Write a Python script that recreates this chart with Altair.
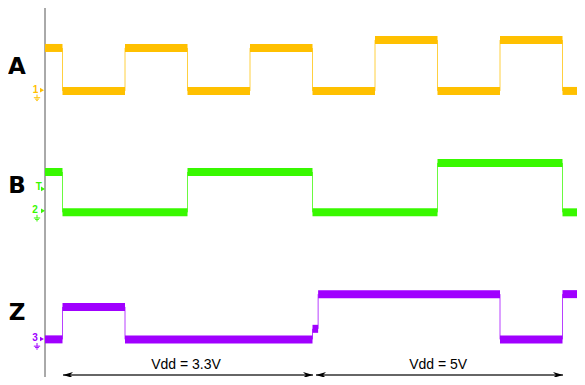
import altair as alt
import pandas as pd

# Time in half-periods of clock A (0 = start of traces); y in screen divisions
T_MIN, T_MAX = -0.592, 8.512
Y_MIN, Y_MAX = 0.212, 10.0

A_times = [0, 0.28, 1.28, 2.28, 3.28, 4.28, 5.28, 6.28, 7.28, 8.28, 8.512]
A_levels = [8.94, 7.80, 8.94, 7.80, 8.94, 7.80, 9.15, 7.80, 9.15, 7.80]
B_times = [0, 0.28, 2.28, 4.28, 6.28, 8.28, 8.512]
B_levels = [5.65, 4.58, 5.65, 4.58, 5.89, 4.58]
Z_times = [0, 0.28, 1.28, 4.28, 4.37, 7.28, 8.28, 8.512]
Z_levels = [1.21, 2.07, 1.21, 1.49, 2.41, 1.21, 2.41]

channels = ["A", "B", "Z"]
trace_colors = ["#FFC000", "#38F800", "#A000FF"]
marker_colors = ["#EBCB5A", "#6BE36B", "#B45ADC"]

label_t = [-0.448, -0.448, -0.448]
label_y = [8.435, 5.28, 1.91]

ch_marker_text = ["1", "T", "2", "3"]
ch_marker_chan = ["A", "B", "B", "Z"]
ch_marker_t = [-0.15, -0.10, -0.16, -0.16]
ch_marker_y = [7.82, 5.25, 4.64, 1.25]
tri_t = [-0.048, -0.032, -0.032, -0.048]
tri_y = [7.82, 5.20, 4.62, 1.22]
gnd_chan = ["A", "B", "Z"]
gnd_t = [-0.128, -0.128, -0.128]
gnd_y = [7.62, 4.43, 1.03]

arrow_y = 0.265
arrow_starts = [0.288, 4.336]
arrow_ends = [4.288, 8.288]
vdd_text = ["Vdd = 3.3V", "Vdd = 5V"]
vdd_t = [2.256, 6.29]
vdd_y = 0.53

seg_rows, edge_rows = [], []
for ch, times, levels in [("A", A_times, A_levels), ("B", B_times, B_levels), ("Z", Z_times, Z_levels)]:
    for i, lv in enumerate(levels):
        seg_rows.append({"channel": ch, "t0": times[i], "t1": times[i + 1], "level": lv})
        if i > 0:
            edge_rows.append({"channel": ch, "t": times[i], "y0": levels[i - 1], "y1": lv})
seg = pd.DataFrame(seg_rows)
edges = pd.DataFrame(edge_rows)

xs = alt.Scale(domain=[T_MIN, T_MAX], nice=False, zero=False)
ys = alt.Scale(domain=[Y_MIN, Y_MAX], nice=False, zero=False)
cs = alt.Scale(domain=channels, range=trace_colors)
ms = alt.Scale(domain=channels, range=marker_colors)

W, H = 569, 369

axis_line = alt.Chart(pd.DataFrame({"t": [0.0]})).mark_rule(color="#555555", strokeWidth=1).encode(
    x=alt.X("t:Q", scale=xs, axis=None), y=alt.value(0), y2=alt.value(H)
)

bands = alt.Chart(seg).mark_rule(strokeWidth=8, strokeCap="butt").encode(
    x=alt.X("t0:Q", scale=xs, axis=None), x2="t1:Q",
    y=alt.Y("level:Q", scale=ys, axis=None),
    color=alt.Color("channel:N", scale=cs, legend=None),
)

edge_lines = alt.Chart(edges).mark_rule(strokeWidth=1, opacity=0.75).encode(
    x=alt.X("t:Q", scale=xs, axis=None),
    y=alt.Y("y0:Q", scale=ys, axis=None), y2="y1:Q",
    color=alt.Color("channel:N", scale=cs, legend=None),
)

labels = alt.Chart(pd.DataFrame({"label": channels, "t": label_t, "y": label_y})).mark_text(
    font="DejaVu Sans", fontWeight="bold", fontSize=23, color="#000000", align="center", baseline="middle"
).encode(x=alt.X("t:Q", scale=xs, axis=None), y=alt.Y("y:Q", scale=ys, axis=None), text="label:N")

mk_text = alt.Chart(pd.DataFrame({"txt": ch_marker_text, "channel": ch_marker_chan, "t": ch_marker_t, "y": ch_marker_y})).mark_text(
    font="Liberation Sans", fontSize=10, fontWeight="bold", align="center", baseline="middle"
).encode(
    x=alt.X("t:Q", scale=xs, axis=None), y=alt.Y("y:Q", scale=ys, axis=None), text="txt:N",
    color=alt.Color("channel:N", scale=ms, legend=None),
)

mk_tri = alt.Chart(pd.DataFrame({"channel": ch_marker_chan, "t": tri_t, "y": tri_y})).mark_point(
    shape="triangle-right", filled=True, size=22, opacity=1
).encode(
    x=alt.X("t:Q", scale=xs, axis=None), y=alt.Y("y:Q", scale=ys, axis=None),
    color=alt.Color("channel:N", scale=ms, legend=None),
)

mk_gnd = alt.Chart(pd.DataFrame({"channel": gnd_chan, "t": gnd_t, "y": gnd_y})).mark_point(
    shape="M0,-1V0M-1,0H1M-0.6,0.45H0.6M-0.25,0.9H0.25", filled=False, size=40, strokeWidth=1, opacity=1
).encode(
    x=alt.X("t:Q", scale=xs, axis=None), y=alt.Y("y:Q", scale=ys, axis=None),
    color=alt.Color("channel:N", scale=ms, legend=None),
)

arr_df = pd.DataFrame({"t0": arrow_starts, "t1": arrow_ends, "y": [arrow_y, arrow_y]})
arr_lines = alt.Chart(arr_df).mark_rule(color="#333333", strokeWidth=1.3).encode(
    x=alt.X("t0:Q", scale=xs, axis=None), x2="t1:Q", y=alt.Y("y:Q", scale=ys, axis=None)
)
arr_right = alt.Chart(arr_df).mark_point(
    shape="M0,0L-1,-0.3L-0.7,0L-1,0.3Z", filled=True, size=400, color="#000000", opacity=1
).encode(x=alt.X("t1:Q", scale=xs, axis=None), y=alt.Y("y:Q", scale=ys, axis=None))
arr_left = alt.Chart(arr_df).mark_point(
    shape="M0,0L1,-0.3L0.7,0L1,0.3Z", filled=True, size=400, color="#000000", opacity=1
).encode(x=alt.X("t0:Q", scale=xs, axis=None), y=alt.Y("y:Q", scale=ys, axis=None))

vdd = alt.Chart(pd.DataFrame({"txt": vdd_text, "t": vdd_t, "y": [vdd_y, vdd_y]})).mark_text(
    font="Liberation Sans", fontSize=14, color="#000000", align="center", baseline="middle"
).encode(x=alt.X("t:Q", scale=xs, axis=None), y=alt.Y("y:Q", scale=ys, axis=None), text="txt:N")

chart = alt.layer(
    axis_line, bands, edge_lines, labels, mk_text, mk_tri, mk_gnd, arr_lines, arr_right, arr_left, vdd
).properties(width=W, height=H, padding=0, autosize="none", background="#FFFFFF").configure_view(stroke=None)

chart.save("out.html", embed_options={"renderer": "svg", "actions": False})
